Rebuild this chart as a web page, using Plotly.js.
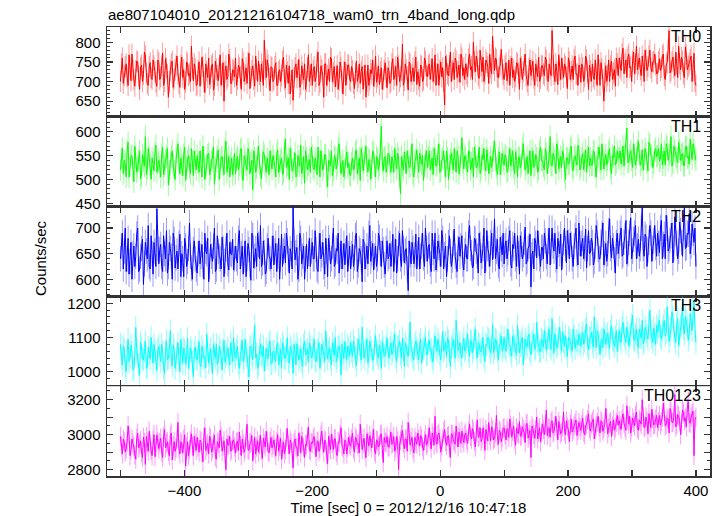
<!DOCTYPE html>
<html>
<head>
<meta charset="utf-8">
<script src="https://cdn.plot.ly/plotly-3.0.1.min.js"></script>
<style>html,body{margin:0;padding:0;background:#fff}#chart{width:723px;height:516px}</style>
</head>
<body>
<div id="chart"></div>
<script>
// time grid: bins of 1.5 s starting at -500 s ("main" samples on whole 3-s steps, "mid" samples in between)
const timeStart = -500;
const timeStep = 3;

const bandNames = ["TH0", "TH1", "TH2", "TH3", "TH0123"];
const bandColors = ["#ff0000", "#00ff00", "#0000ff", "#00ffff", "#ff00ff"];
const errColors = ["rgba(255,0,0,0.4)", "rgba(0,255,0,0.4)", "rgba(0,0,255,0.4)", "rgba(0,255,255,0.45)", "rgba(255,0,255,0.4)"];
const bandErrors = [27, 23, 25, 33, 55];

const th0 = [
700,760,715,745,690,735,770,705,728,750,680,742,718,765,695,738,710,755,725,688,
748,712,772,700,735,660,728,752,706,740,718,685,762,730,698,745,720,790,702,733,
692,750,715,738,672,726,760,708,745,690,732,702,768,718,650,740,712,755,695,728,
760,705,735,680,748,718,695,772,712,740,688,730,752,700,725,805,710,742,676,735,
705,748,690,730,715,762,684,725,740,700,652,735,710,756,692,722,745,700,768,715,
690,738,712,775,698,730,660,745,715,700,758,722,686,740,705,735,668,750,718,742,
700,728,682,752,710,695,738,715,660,742,705,720,688,765,712,692,735,705,748,684,
725,700,758,715,690,740,712,795,702,730,678,745,718,700,762,725,688,738,705,752,
712,745,732,700,768,720,690,750,735,640,742,715,775,728,705,752,725,698,760,735,
745,712,770,738,800,725,752,708,740,762,720,748,695,735,815,728,755,710,742,730,
705,748,720,690,760,730,712,745,680,738,725,770,700,735,715,752,690,728,762,708,
740,715,755,700,732,830,718,745,692,728,760,710,738,682,750,725,705,765,720,742,
698,735,712,755,680,728,745,705,720,768,690,732,650,740,715,700,752,722,688,745,
760,728,785,745,710,770,738,752,720,790,745,730,765,700,755,738,780,725,750,742,
720,758,735,770,705,748,830,728,762,715,745,790,730,752,710,768,738,755,700,772,690
];
const th0Mid = [
745,695,738,712,768,702,730,688,752,715,735,700,775,722,690,748,705,740,698,755,
705,740,690,758,718,700,745,685,730,765,695,742,710,680,750,715,700,735,745,690,
728,688,762,700,745,710,692,740,678,752,715,735,690,748,725,705,770,695,730,712,
690,742,712,758,700,735,750,682,728,705,765,700,718,745,690,730,755,708,738,700,
738,690,725,700,752,705,742,695,668,730,710,745,728,685,740,705,680,735,700,745,
728,700,752,690,740,715,745,690,732,762,700,738,715,680,750,700,725,690,742,705,
738,695,720,700,745,725,680,742,700,690,730,755,712,698,740,725,680,730,712,735,
695,745,705,738,762,700,728,690,745,712,750,700,735,750,692,705,742,700,760,715,
740,705,758,722,690,745,730,712,700,765,720,740,700,748,760,710,742,770,715,705,
720,758,730,705,750,765,715,780,725,700,755,738,770,720,745,760,712,735,782,718,
740,702,755,738,710,700,748,722,760,705,742,715,690,755,730,708,745,712,700,740,
720,762,705,745,715,740,700,725,768,705,732,745,712,760,705,740,755,718,690,735,
745,700,765,725,742,700,712,755,690,730,748,705,722,700,755,740,705,730,760,715,
735,770,720,755,762,735,700,775,745,730,760,715,742,780,728,765,735,750,770,720,
750,728,765,715,742,780,722,750,735,775,710,745,762,720,788,730,745,765,728,700
];

const th1 = [
520,565,540,505,578,530,550,495,545,525,560,510,538,590,522,548,500,535,555,515,
540,505,568,528,548,488,535,560,518,542,575,512,530,552,498,540,525,565,508,536,
550,515,538,570,500,532,555,520,545,490,538,562,525,548,510,580,530,505,545,528,
512,548,530,565,498,540,520,555,535,478,545,525,570,508,538,552,515,532,560,522,
540,505,562,528,545,515,585,530,500,548,522,556,510,538,572,525,492,545,530,515,
550,520,535,568,505,540,528,552,485,538,560,518,545,530,575,512,540,522,558,535,
508,545,525,562,530,498,548,535,570,515,540,525,555,505,542,530,612,518,548,528,
552,515,538,565,522,545,470,530,558,512,540,528,575,505,545,525,555,532,498,540,
525,560,538,510,548,532,575,518,545,528,560,500,542,535,565,515,548,530,588,522,
545,515,558,535,505,550,528,568,520,542,530,562,512,548,538,580,525,545,510,555,
530,548,518,565,540,525,558,505,545,532,575,520,548,538,508,560,530,545,522,568,
540,520,555,535,590,528,548,512,560,538,525,552,500,545,535,570,518,550,530,562,
528,555,538,515,568,545,530,558,505,548,535,575,522,552,540,565,512,546,530,560,
545,532,570,550,608,538,560,525,552,545,580,530,562,540,555,518,572,548,535,565,
550,538,575,545,530,568,552,590,535,560,545,578,540,555,528,570,548,585,542,562,540
];
const th1Mid = [
545,512,532,560,505,548,520,570,515,540,502,552,528,510,565,530,545,518,572,535,
525,552,510,540,565,518,548,530,500,558,535,545,508,568,525,550,512,538,560,520,
535,560,505,548,525,552,510,540,568,522,548,500,545,530,562,515,548,535,510,555,
540,520,562,505,550,530,565,512,540,560,515,548,532,502,558,528,545,510,538,550,
528,555,515,540,510,560,525,545,565,518,535,505,550,528,512,548,560,520,542,568,
525,545,510,538,560,520,552,505,540,528,508,550,522,565,540,530,505,548,525,510,
535,520,558,512,545,565,518,550,530,542,500,560,528,548,520,565,535,545,515,555,
532,548,515,540,555,505,548,520,535,560,525,545,512,538,562,515,540,550,528,560,
548,520,545,565,528,552,515,540,560,505,545,530,555,520,540,560,512,548,535,550,
530,560,520,545,568,525,540,512,552,565,518,545,535,525,560,540,510,558,532,540,
552,515,545,528,560,512,540,548,525,565,540,532,512,560,545,525,552,515,560,540,
528,565,512,548,530,555,540,575,522,548,560,515,545,532,565,525,548,538,572,520,
545,520,562,548,528,530,560,525,545,568,520,548,540,530,558,525,550,570,535,545,
560,548,528,575,535,552,540,575,530,562,552,540,520,565,535,578,550,525,560,548,
565,545,530,560,575,540,555,528,570,548,535,562,552,530,568,545,532,560,575,550
];

const th2 = [
640,690,655,615,680,635,600,665,645,700,620,660,590,672,640,625,685,610,655,738,
630,668,615,650,695,625,660,600,678,642,620,688,650,605,665,635,710,622,658,640,
612,675,645,628,690,650,595,668,635,700,620,655,640,682,605,660,630,672,648,618,
665,632,695,650,610,675,640,658,598,685,645,625,668,705,632,652,615,680,640,660,
628,670,645,600,688,655,632,675,612,650,742,638,662,620,680,645,600,668,650,625,
672,640,658,615,690,648,625,680,605,662,640,700,630,655,612,675,645,628,685,650,
620,668,642,690,628,655,595,672,645,630,705,650,618,665,640,682,625,658,610,675,
645,625,688,655,612,670,640,695,632,660,578,648,672,630,688,650,620,665,642,700,
635,668,615,652,690,640,662,625,680,648,605,672,655,638,698,628,660,645,685,618,
668,640,705,652,625,678,645,690,632,660,612,695,650,672,638,718,655,628,682,648,
630,675,652,695,622,660,640,685,610,668,648,702,635,665,585,655,680,642,670,625,
662,690,645,675,628,700,655,638,680,650,618,672,660,695,640,668,625,685,650,710,
645,680,660,622,695,652,672,635,705,658,640,688,628,670,650,718,642,665,612,690,
665,700,648,685,630,672,720,655,690,640,678,660,740,645,682,658,705,635,675,662,
690,652,715,668,640,700,660,685,632,722,670,655,695,645,740,662,688,650,708,672,625
];
const th2Mid = [
665,620,700,640,610,672,650,625,688,615,645,678,630,655,705,620,650,672,625,660,
658,625,685,640,612,672,645,690,622,655,670,605,640,680,625,660,645,600,675,620,
650,630,668,600,655,680,625,645,665,615,685,645,620,660,635,690,618,650,678,640,
640,680,620,665,640,605,670,628,690,622,660,690,640,625,675,610,665,645,620,685,
655,615,680,640,625,665,690,640,660,620,675,652,600,690,630,665,640,620,680,655,
640,695,620,665,640,672,610,655,680,630,665,625,660,690,645,620,670,655,615,665,
650,625,685,615,660,640,678,620,665,690,635,670,645,625,690,650,675,628,660,640,
670,650,615,678,640,690,625,660,655,620,675,630,660,648,620,682,645,690,625,660,
665,630,690,640,618,675,650,695,620,665,640,685,625,670,645,615,682,665,630,655,
640,690,660,622,680,655,612,668,645,700,640,660,625,690,665,640,678,620,660,690,
665,640,680,630,668,690,625,650,685,640,672,630,660,688,648,620,670,695,640,662,
640,675,630,700,655,665,690,620,668,688,645,700,632,672,690,640,665,700,628,670,
670,640,698,660,650,680,628,665,690,640,672,710,650,635,695,660,680,638,672,650,
690,645,672,715,650,690,640,678,705,665,645,700,660,688,625,672,690,660,705,645,
670,700,640,688,725,655,675,710,660,690,640,712,672,700,660,690,728,665,690,700
];

const th3 = [
1080,1020,1065,1000,1095,1040,1060,1010,1130,1045,990,1070,1035,1088,1015,1055,1100,1025,1062,1005,
1075,1030,1058,995,1090,1040,1120,1018,1065,1035,1085,1000,1052,1070,1022,1098,1040,1060,985,1072,
1035,1088,1015,1060,1042,1110,1025,1068,995,1055,1080,1030,1062,1005,1092,1045,1070,1020,1058,1100,
1040,1075,1010,1062,1030,1095,1048,985,1070,1035,1135,1052,1020,1080,1045,1002,1068,1038,1090,1025,
1060,1030,1085,1048,1010,1072,1040,1100,1025,1065,995,1058,1082,1035,1068,1015,1090,1050,1028,1075,
1045,1095,1030,1065,1010,1080,1055,1120,1038,1070,1020,1062,1100,1042,1075,990,1058,1088,1035,1068,
1085,1045,1072,1018,1095,1055,1130,1040,1068,1025,1090,1060,1035,1105,1050,1078,1010,1070,1048,1098,
1040,1085,1060,1110,1030,1075,1052,1098,1015,1070,1045,1145,1062,1035,1090,1055,1080,1025,1068,1100,
1050,1092,1065,1028,1105,1060,1080,1035,1118,1070,1045,1090,1015,1075,1058,1150,1062,1085,1040,1098,
1065,1110,1045,1088,1070,1125,1040,1080,1058,1100,1030,1078,1095,1055,1140,1068,1090,1035,1082,1060,
1100,1060,1125,1075,1045,1090,1068,1135,1055,1085,1020,1095,1072,1110,1050,1088,1065,1145,1078,1058,
1090,1120,1062,1100,1075,1155,1055,1095,1080,1130,1060,1088,1105,1045,1098,1075,1125,1068,1092,1110,
1075,1115,1090,1140,1065,1100,1085,1160,1070,1108,1050,1095,1125,1080,1112,1068,1135,1090,1102,1060,
1120,1085,1145,1098,1130,1075,1110,1165,1090,1125,1070,1105,1150,1088,1118,1095,1180,1100,1128,1080,
1115,1150,1095,1135,1105,1190,1088,1125,1160,1100,1140,1075,1130,1200,1110,1148,1092,1170,1120,1205,1085
];
const th3Mid = [
1040,1075,1015,1055,1030,1078,1005,1050,1065,1020,1085,1040,1060,1010,1072,1038,1058,1080,1030,1065,
1048,1080,1012,1060,1035,1065,1042,1078,1010,1055,1040,1095,1025,1062,1045,1010,1070,1030,1058,1040,
1060,1020,1075,1040,1012,1065,1048,1030,1080,1040,1020,1075,1042,1065,1028,1055,1040,1085,1030,1050,
1065,1025,1048,1092,1040,1060,1015,1075,1050,1085,1040,1010,1065,1050,1075,1035,1050,1080,1022,1060,
1040,1078,1020,1065,1085,1040,1060,1030,1075,1045,1080,1020,1065,1045,1030,1078,1050,1065,1085,1040,
1070,1035,1060,1085,1042,1062,1030,1075,1060,1040,1085,1048,1030,1072,1055,1080,1038,1055,1075,1045,
1060,1090,1040,1065,1078,1035,1070,1058,1095,1045,1070,1035,1082,1060,1040,1060,1088,1045,1075,1055,
1070,1050,1085,1045,1072,1090,1040,1065,1085,1050,1080,1062,1040,1078,1068,1035,1095,1060,1080,1050,
1085,1062,1040,1080,1070,1095,1050,1075,1060,1085,1100,1058,1070,1095,1040,1080,1072,1050,1078,1060,
1085,1060,1092,1055,1100,1065,1085,1060,1078,1045,1080,1100,1068,1075,1055,1095,1062,1080,1105,1070,
1070,1095,1080,1060,1105,1078,1050,1092,1075,1100,1065,1082,1100,1060,1085,1110,1070,1090,1060,1095,
1072,1098,1085,1125,1065,1082,1110,1070,1100,1085,1115,1075,1070,1100,1088,1060,1105,1090,1078,1085,
1100,1080,1125,1075,1098,1115,1072,1095,1120,1085,1090,1070,1110,1100,1085,1118,1095,1075,1120,1090,
1098,1130,1110,1085,1115,1100,1140,1095,1108,1085,1125,1098,1082,1130,1105,1140,1115,1085,1110,1135,
1130,1105,1120,1150,1115,1135,1108,1175,1120,1085,1155,1115,1140,1125,1160,1130,1110,1140,1165,1125
];

const th0123 = [
2990,2890,2960,2920,3050,2880,2975,2930,2860,3010,2945,2900,2985,2830,2955,3020,2910,2968,2875,3000,
2920,2980,2870,3030,2950,2905,2995,2855,2960,2925,3070,2890,2948,2975,2820,2960,2915,3005,2880,2950,
2985,2900,2960,2845,3040,2935,2890,2978,2920,2998,2860,2950,3025,2905,2965,2800,2940,2990,2915,2970,
2895,2962,3015,2880,2945,2920,3060,2910,2955,2850,2985,2930,2900,2995,2865,2948,3020,2905,2960,2925,
2970,2880,3000,2935,2860,2958,2915,3035,2890,2950,2810,2975,2925,3010,2895,2962,2870,2940,3045,2905,
2950,2990,2875,2965,2920,3020,2900,2960,2835,2945,3005,2915,2978,2880,2955,3040,2925,2970,2890,2985,
2935,3010,2900,2975,2950,3060,2915,2980,2870,2960,2995,2925,3030,2890,2965,2940,3005,2840,2958,2990,
2930,3015,2955,2905,2990,2800,2968,3025,2920,2975,3070,2940,2985,2895,2960,3010,2935,2980,2910,3000,
2950,3040,2920,2990,3105,2945,3010,2900,2975,3030,2940,2995,2870,3000,2960,3050,2930,2985,3020,2955,
3010,2950,3060,2975,3020,2930,3085,2990,2960,3040,2910,3005,3070,2965,3025,2980,3110,2945,3015,2985,
3040,2970,3020,3090,2985,3050,2940,3010,3075,2995,3030,2955,3065,3000,2870,3035,2980,3100,3015,2960,
3060,3000,3140,3035,2985,3080,3020,3105,2970,3050,3015,3130,3000,3045,2960,3090,3030,3065,2995,3070,
3025,3095,3000,3060,3120,3020,3075,2975,3050,3105,3010,3070,3035,3150,3005,3065,2990,3085,3040,3110,
3080,3030,3120,3045,3165,3060,3010,3095,3050,3130,3025,3075,3200,3040,3100,3005,3070,3145,3055,3090,
3040,3110,3075,3180,3050,3095,3010,3130,3070,3230,3060,3105,3000,3140,3080,3045,3190,3065,3120,2880,3100
];
const th0123Mid = [
2935,2975,2900,2960,2995,2915,2950,2885,2980,2925,2965,2870,2955,2990,2905,2948,2880,3000,2925,2960,
2955,2900,2990,2925,2960,2880,3010,2935,2905,2975,2920,2960,2895,3000,2930,2880,2965,2935,2990,2910,
2930,2970,2895,2985,2910,2950,2990,2900,2955,2875,2960,2925,2985,2935,2890,2975,2945,2905,2965,2930,
2955,2910,2940,2975,2900,2985,2915,2950,2995,2920,2890,2965,2945,2910,2980,2930,2960,2895,2985,2940,
2925,2960,2905,2980,2915,2890,2985,2945,2970,2905,2955,2930,2880,2960,2990,2925,2945,2985,2915,2955,
2975,2925,2960,2905,2995,2945,2970,2885,2990,2915,2950,2975,2900,2960,3000,2935,2890,2960,2930,2945,
2975,2920,2985,2945,2895,2990,2950,2915,3005,2935,2960,2980,2905,2970,2930,3000,2920,2985,2955,2930,
2975,2945,2990,2925,2965,2940,3000,2950,2975,2905,3010,2960,2920,2985,2945,2975,2995,2930,2965,2940,
2985,2965,3010,2940,2960,3000,2975,2935,3020,2960,2990,2925,3005,2970,2945,2985,3015,2950,2980,3000,
2970,3020,2990,3035,2960,3010,2985,3040,2975,3000,3030,2965,2995,3045,2970,3010,2990,3025,2960,3035,
3000,3035,2985,3050,3020,2975,3040,3005,2990,3045,3010,3060,2980,3025,3050,3000,3030,2975,3040,3010,
3030,3055,2995,3040,3070,3010,3050,3035,3075,3005,3045,3020,3080,3030,3060,3015,3050,3085,3025,3045,
3060,3015,3050,3085,3035,3060,3090,3030,3070,3045,3080,3020,3060,3095,3040,3075,3050,3025,3070,3055,
3050,3090,3065,3025,3080,3105,3045,3070,3110,3035,3085,3060,3100,3050,3075,3120,3040,3090,3060,3110,
3075,3055,3100,3130,3060,3085,3150,3070,3100,3045,3115,3080,3060,3125,3095,3150,3070,3100,3135,3085
];

const mainSeries = [th0, th1, th2, th3, th0123];
const midSeries = [th0Mid, th1Mid, th2Mid, th3Mid, th0123Mid];
const yRanges = [[610, 839], [443, 631.5], [566.5, 742], [958, 1220], [2764, 3277]];
const yTickVals = [
  [650, 700, 750, 800],
  [450, 500, 550, 600],
  [600, 650, 700],
  [1000, 1100, 1200],
  [2800, 2900, 3000, 3100, 3200]
];
const yTickText = [
  ["650", "700", "750", "800"],
  ["450", "500", "550", "600"],
  ["600", "650", "700"],
  ["1000", "1100", "1200"],
  ["2800", "", "3000", "", "3200"]
];
const yMinorStep = [10, 10, 10, 20, 50];
const xTickVals = [-500, -400, -300, -200, -100, 0, 100, 200, 300, 400];
const xTickText = ["", "\u2212400", "", "\u2212200", "", "0", "", "200", "", "400"];

// interleave main samples (t0 + 3i) and mid samples (t0 + 1.5 + 3i)
function merge(main, mid) {
  const xs = [], ys = [];
  for (let i = 0; i < main.length; i++) {
    xs.push(timeStart + i * timeStep); ys.push(main[i]);
    if (i < mid.length) { xs.push(timeStart + i * timeStep + timeStep / 2); ys.push(mid[i]); }
  }
  return {xs, ys};
}

const axisColor = "#333333";
const fontFam = "Liberation Sans, Arial, Helvetica, sans-serif";
const traces = [];
const layout = {
  width: 723, height: 516,
  margin: {l: 107, r: 13, t: 27, b: 40},
  paper_bgcolor: "#ffffff", plot_bgcolor: "#ffffff",
  showlegend: false,
  font: {family: fontFam, size: 15, color: "#000"},
  title: {
    text: "ae807104010_20121216104718_wam0_trn_4band_long.qdp",
    x: 108 / 723, xanchor: "left", xref: "container",
    y: 1 - 15 / 516, yanchor: "middle", yref: "container",
    font: {family: fontFam, size: 15, color: "#000"}
  },
  annotations: [
    {text: "Counts/sec", textangle: -90, xref: "paper", yref: "paper",
     x: (40 - 107) / 603, y: (476 - 258) / 449, xanchor: "center", yanchor: "middle",
     showarrow: false, font: {family: fontFam, size: 15, color: "#000"}}
  ]
};

for (let k = 0; k < 5; k++) {
  const n = k + 1;
  const xa = n === 1 ? "x" : "x" + n;
  const ya = n === 1 ? "y" : "y" + n;
  const d = merge(mainSeries[k], midSeries[k]);
  traces.push({
    type: "scatter", mode: "lines",
    x: d.xs, y: d.ys,
    xaxis: xa, yaxis: ya,
    line: {color: bandColors[k], width: 1},
    error_y: {type: "constant", value: bandErrors[k], width: 0, thickness: 1, color: errColors[k]},
    hoverinfo: "skip"
  });
  const top = 1 - k * 0.2;
  const bottom = top - 0.2;
  const xKey = n === 1 ? "xaxis" : "xaxis" + n;
  const yKey = n === 1 ? "yaxis" : "yaxis" + n;
  layout[xKey] = {
    anchor: ya, domain: [0, 1], range: [-521, 422],
    showgrid: false, zeroline: false,
    showline: true, linecolor: axisColor, linewidth: 1.5, mirror: "allticks",
    ticks: "inside", ticklen: 6, tickwidth: 1.2, tickcolor: axisColor,
    tickmode: "array", tickvals: xTickVals, ticktext: xTickText,
    showticklabels: k === 4,
    tickfont: {family: fontFam, size: 15, color: "#000"},
    fixedrange: true
  };
  if (k === 4) {
    layout[xKey].title = {text: "Time [sec] 0 = 2012/12/16 10:47:18", standoff: 3,
      font: {family: fontFam, size: 15, color: "#000"}};
  }
  layout[yKey] = {
    anchor: xa, domain: [bottom, top], range: yRanges[k],
    showgrid: false, zeroline: false,
    showline: true, linecolor: axisColor, linewidth: 1.5, mirror: "allticks",
    ticks: "inside", ticklen: 6, tickwidth: 1.2, tickcolor: axisColor,
    tickmode: "array", tickvals: yTickVals[k], ticktext: yTickText[k],
    minor: {dtick: yMinorStep[k], ticks: "inside", ticklen: 3, tickwidth: 1, tickcolor: axisColor, showgrid: false},
    tickfont: {family: fontFam, size: 15, color: "#000"},
    ticklabelstandoff: 2,
    fixedrange: true
  };
  layout.annotations.push({
    text: bandNames[k], xref: "paper", yref: ya + " domain",
    x: (703 - 107) / 603, y: 1 - 9.5 / 89.8, xanchor: "right", yanchor: "middle",
    showarrow: false, font: {family: fontFam, size: 16, color: "#000"}
  });
}

Plotly.newPlot("chart", traces, layout, {displayModeBar: false, staticPlot: true});
</script>
</body>
</html>
